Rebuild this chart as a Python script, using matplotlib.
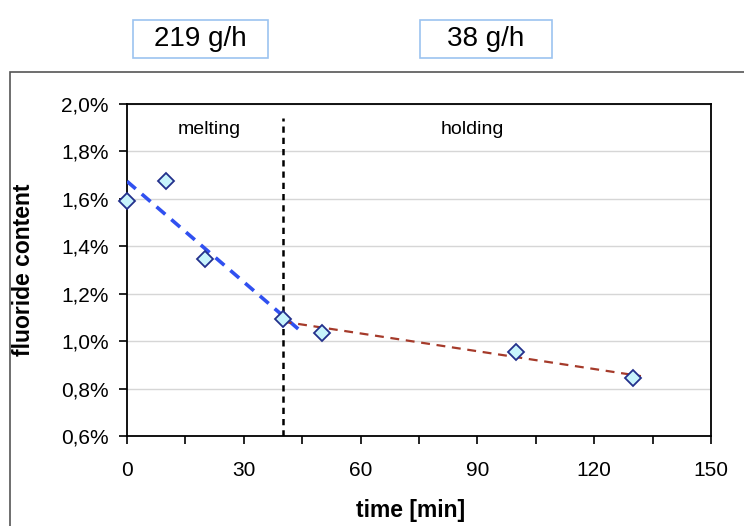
"""Fluoride content during melting and holding, redrawn from the reference chart."""

import matplotlib

matplotlib.use("Agg")
import matplotlib.pyplot as plt
import numpy as np
from matplotlib.patches import Rectangle
from matplotlib.ticker import FuncFormatter, MultipleLocator

plt.rcParams["font.family"] = ["Liberation Sans", "DejaVu Sans"]

# measured points
time_min = [0, 10, 20, 40, 50, 100, 130]
fluoride_pct = [1.59, 1.675, 1.345, 1.095, 1.035, 0.955, 0.845]

# points used for each trend line
melting_idx = [0, 1, 2, 3]
holding_idx = [3, 4, 5, 6]
melting_span = [0, 45]
holding_span = [40, 132]

phase_labels = ["melting", "holding"]
rate_labels = ["219 g/h", "38 g/h"]
phase_split = 40

W, H = 744, 526
fig = plt.figure(figsize=(W / 100, H / 100), dpi=100)

# outer frame
fig.patches.append(Rectangle((10 / W, -0.1), 1.2, (H - 72) / H + 0.1,
                             transform=fig.transFigure, fill=False,
                             edgecolor="#555555", lw=1.2))

ax = fig.add_axes([127 / W, (H - 436) / H, (711 - 127) / W, (436 - 104) / H])

ax.grid(axis="y", color="#D6D6D6", lw=1.0)
ax.set_axisbelow(True)

x = np.array(time_min, dtype=float)
y = np.array(fluoride_pct, dtype=float)

m1 = np.polyfit(x[melting_idx], y[melting_idx], 1)
xs1 = np.array(melting_span, dtype=float)
ax.plot(xs1, np.polyval(m1, xs1), color="#3050F0", lw=2.6, ls=(0, (3.2, 2.2)), zorder=3)

m2 = np.polyfit(x[holding_idx], y[holding_idx], 1)
xs2 = np.array(holding_span, dtype=float)
ax.plot(xs2, np.polyval(m2, xs2), color="#A53A2A", lw=1.6, ls=(0, (4, 3)), zorder=3)

ax.vlines(phase_split, 0.6, 1.94, color="black", lw=1.8, ls=(0, (2.5, 2)), zorder=4)

ax.plot(x, y, ls="none", marker="D", ms=8.5, mfc="#C8F4FC", mec="#23308C",
        mew=1.3, zorder=5, clip_on=False)

ax.text(0.140, 0.95, phase_labels[0], transform=ax.transAxes, ha="center", va="top", fontsize=14)
ax.text(0.591, 0.95, phase_labels[1], transform=ax.transAxes, ha="center", va="top", fontsize=14)

ax.set_xlim(0, 150)
ax.set_ylim(0.6, 2.0)
ax.xaxis.set_major_locator(MultipleLocator(30))
ax.xaxis.set_minor_locator(MultipleLocator(15))
ax.yaxis.set_major_locator(MultipleLocator(0.2))
ax.yaxis.set_major_formatter(FuncFormatter(lambda v, _: f"{v:.1f}%".replace(".", ",")))
ax.tick_params(axis="both", which="major", direction="out", length=6, width=1.2,
               labelsize=15, pad=7)
ax.tick_params(axis="x", which="minor", direction="out", length=6, width=1.2)
ax.tick_params(axis="x", which="major", pad=12)
for side in ax.spines.values():
    side.set_linewidth(1.3)
    side.set_color("black")

ax.set_xlabel("time [min]", fontsize=16.5, fontweight="bold")
ax.set_ylabel("fluoride content", fontsize=16.5, fontweight="bold")
ax.xaxis.set_label_coords(0.486, -0.19)
ax.yaxis.set_label_coords(-0.157, 0.5)

# rate boxes above the chart
for label, (x0, x1) in zip(rate_labels, [(133, 268), (420, 552)]):
    fig.patches.append(Rectangle((x0 / W, (H - 58) / H), (x1 - x0) / W, 38 / H,
                                 transform=fig.transFigure, fill=False,
                                 edgecolor="#9CC3F0", lw=1.2))
    fig.text((x0 + x1) / 2 / W, (H - 39) / H, label, ha="center", va="center", fontsize=20)

fig.savefig("out.png", dpi=100, facecolor="white")
